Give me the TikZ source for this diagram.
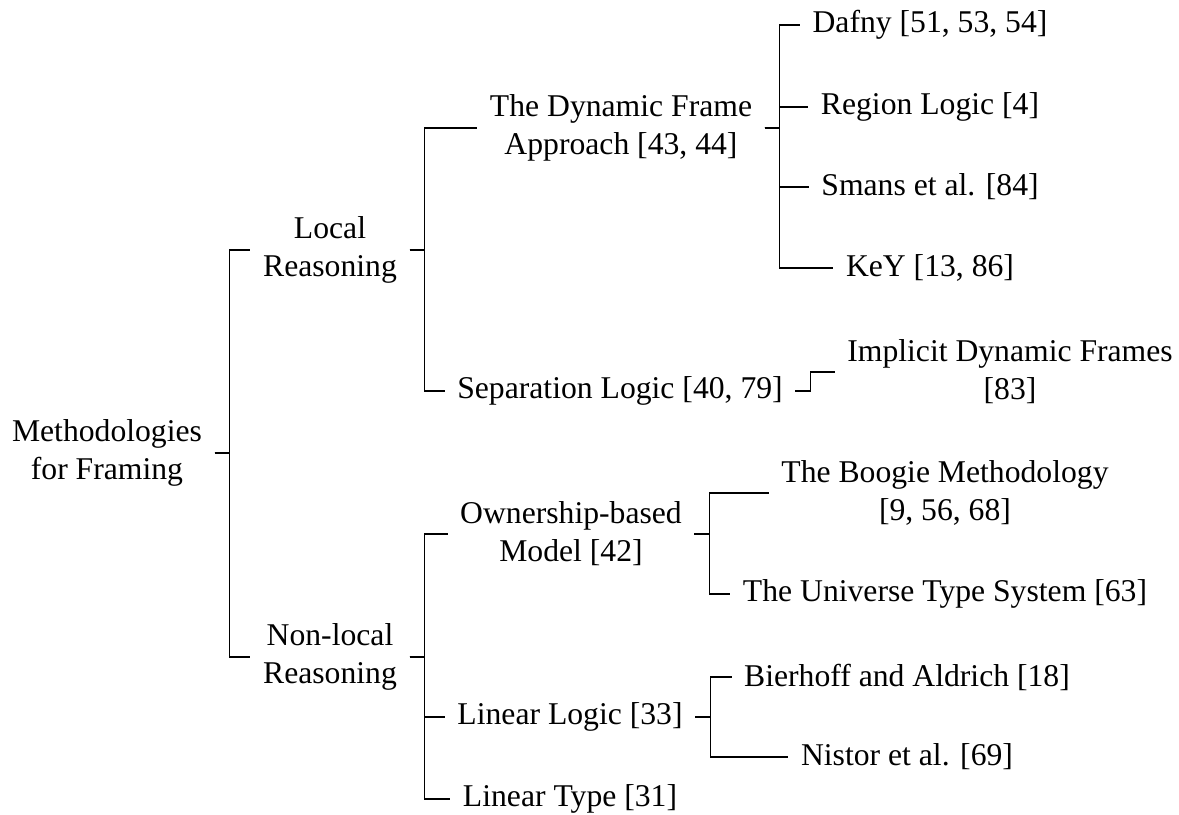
\documentclass[tikz,border=0pt]{standalone}
\usepackage{fontspec}
\setmainfont{Liberation Serif}
\begin{document}
\begin{tikzpicture}[x=0.3158pt,y=-0.3158pt,
  tn/.style={font=\fontsize{10}{12}\selectfont, align=center, inner xsep=3.8pt, inner ysep=0pt},
  fork/.style={draw, line width=0.35pt}]
\useasboundingbox (0,0) rectangle (1179,815);
\node[tn] (root) at (107,453) {Methodologies\\for Framing};
\node[tn] (local) at (330,250) {Local\\Reasoning};
\node[tn] (nonlocal) at (330,657) {Non-local\\Reasoning};
\node[tn] (dyn) at (621,128) {The Dynamic Frame\\Approach [43, 44]};
\node[tn] (sep) at (620,391) {Separation Logic [40, 79]};
\node[tn] (own) at (571,534) {Ownership-based\\Model [42]};
\node[tn] (linlog) at (570,717) {Linear Logic [33]};
\node[tn] (lintype) at (570,799) {Linear Type [31]};
\node[tn] (dafny) at (930,25) {Dafny [51, 53, 54]};
\node[tn] (region) at (930,107) {Region Logic [4]};
\node[tn] (smans) at (930,187) {Smans et al. [84]};
\node[tn] (key) at (930,268) {KeY [13, 86]};
\node[tn] (implicit) at (1010,372) {Implicit Dynamic Frames\\{}[83]};
\node[tn] (boogie) at (945,493) {The Boogie Methodology\\{}[9, 56, 68]};
\node[tn] (universe) at (945,594) {The Universe Type System [63]};
\node[tn] (bierhoff) at (907,677) {Bierhoff and Aldrich [18]};
\node[tn] (nistor) at (907,757) {Nistor et al. [69]};
\foreach \p/\c in {root/local, root/nonlocal, local/dyn, local/sep,
  nonlocal/own, nonlocal/linlog, nonlocal/lintype,
  dyn/dafny, dyn/region, dyn/smans, dyn/key, sep/implicit,
  own/boogie, own/universe, linlog/bierhoff, linlog/nistor}
  \draw[fork] (\p.east) -- ++(15,0) |- (\c.west);
\end{tikzpicture}
\end{document}
